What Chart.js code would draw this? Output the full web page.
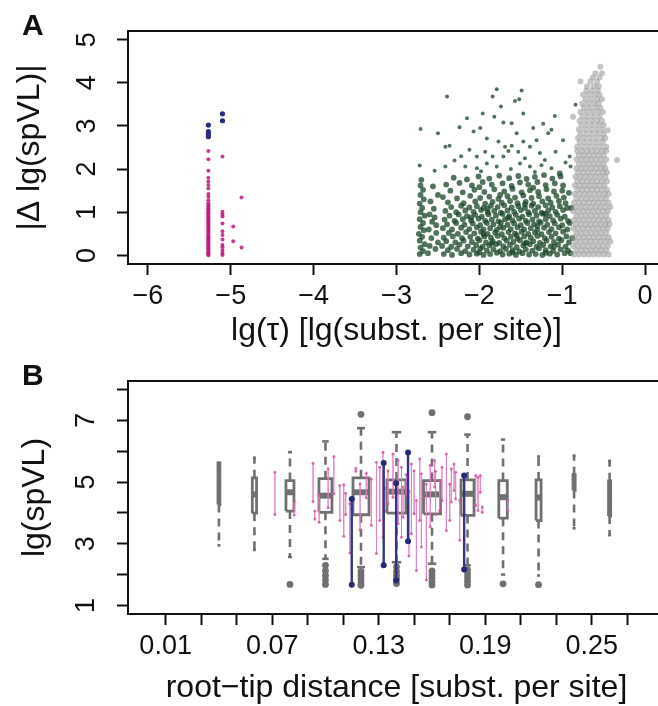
<!DOCTYPE html>
<html><head><meta charset="utf-8">
<script src="https://cdn.jsdelivr.net/npm/chart.js"></script>
<style>
html,body{margin:0;padding:0;background:#fff;}
#wrap{position:relative;width:658px;height:706px;overflow:hidden;background:#fff;}
canvas{position:absolute;left:0;}
#ca{top:0;}
#cb{top:350px;}
</style></head>
<body><div id="wrap"><canvas id="ca" width="700" height="350"></canvas><canvas id="cb" width="700" height="356"></canvas></div>
<script>
// ---------------- Panel A data ----------------
const xTicksA = [-6,-5,-4,-3,-2,-1,0];
const yTicksA = [0,1,2,3,4,5];
const magentaPts = [
[-5.27,0.0],[-5.27,0.03],[-5.27,0.05],[-5.27,0.08],[-5.27,0.1],[-5.27,0.13],[-5.27,0.16],[-5.27,0.18],[-5.27,0.21],[-5.27,0.24],[-5.27,0.27],[-5.27,0.3],[-5.27,0.33],[-5.27,0.36],[-5.27,0.39],[-5.27,0.42],[-5.27,0.45],[-5.27,0.48],[-5.27,0.52],[-5.27,0.55],[-5.27,0.58],[-5.27,0.61],[-5.27,0.64],[-5.27,0.68],[-5.27,0.71],[-5.27,0.74],[-5.27,0.77],[-5.27,0.8],[-5.27,0.84],[-5.27,0.87],[-5.27,0.9],[-5.27,0.94],[-5.27,0.97],[-5.27,1.0],[-5.27,1.04],[-5.27,1.07],[-5.27,1.1],[-5.27,1.14],[-5.27,1.17],[-5.27,1.21],[-5.27,1.28],[-5.27,1.36],[-5.27,1.42],[-5.27,1.55],[-5.27,1.63],[-5.27,1.71],[-5.27,1.8],[-5.27,1.96],[-5.27,2.23],[-5.27,2.42],
[-5.1,0.01],[-5.1,0.05],[-5.1,0.11],[-5.1,0.19],[-5.1,0.24],[-5.1,0.37],[-5.1,0.47],[-5.1,0.56],[-5.1,0.74],[-5.1,0.9],[-5.1,0.95],[-5.1,1.01],[-5.1,2.29],
[-4.97,0.67],[-4.97,0.33],[-4.87,1.34],[-4.87,0.18]
];
const bluePts = [[-5.27,3.02],[-5.27,2.87],[-5.27,2.81],[-5.27,2.75],[-5.1,3.28],[-5.1,3.12]];
const greenPts = [
[-2.72,0.03],[-2.68,0.1],[-2.71,0.18],[-2.66,0.26],[-2.72,0.34],[-2.69,0.43],[-2.73,0.5],[-2.67,0.58],[-2.71,0.66],[-2.68,0.75],[-2.72,0.84],[-2.66,0.92],[-2.71,1.0],[-2.69,1.1],[-2.72,1.2],[-2.67,1.3],[-2.71,1.4],[-2.68,1.52],[-2.71,1.62],[-2.7,1.75],[-2.72,2.08],
[-2.62,0.05],[-2.6,0.22],[-2.58,0.4],[-2.61,0.6],[-2.57,0.78],[-2.6,0.95],[-2.55,1.08],[-2.59,1.25],[-2.53,0.15],[-2.52,0.52],[-2.54,0.88],[-2.5,1.4],[-2.56,1.6],[-2.52,0.7],[-2.5,0.3],
[-2.43,0.03],[-2.33,0.01],[-2.22,0.05],[-2.12,0.02],[-2.03,0.04],[-1.95,0.01],[-1.87,0.03],[-1.79,0.06],[-1.72,0.02],[-1.64,0.04],[-1.56,0.01],[-1.48,0.05],[-1.4,0.02],[-1.32,0.03],[-1.24,0.01],[-1.15,0.04],[-1.06,0.02],[-0.97,0.05],
[-2.38,0.12],[-2.27,0.15],[-2.17,0.1],[-2.07,0.13],[-1.99,0.16],[-1.91,0.11],[-1.83,0.14],[-1.75,0.1],[-1.68,0.15],[-1.6,0.12],[-1.52,0.09],[-1.44,0.14],[-1.36,0.11],[-1.28,0.16],[-1.2,0.12],[-1.11,0.1],[-1.02,0.14],[-0.93,0.11],
[-2.45,0.22],[-2.34,0.2],[-2.24,0.25],[-2.14,0.21],[-2.04,0.24],[-1.96,0.2],[-1.88,0.23],[-1.8,0.26],[-1.71,0.21],[-1.63,0.24],[-1.55,0.19],[-1.47,0.23],[-1.39,0.26],[-1.31,0.2],[-1.23,0.24],[-1.14,0.21],[-1.05,0.25],[-0.96,0.2],
[-2.4,0.33],[-2.29,0.3],[-2.19,0.34],[-2.09,0.31],[-2.0,0.35],[-1.92,0.3],[-1.84,0.33],[-1.76,0.29],[-1.67,0.34],[-1.59,0.31],[-1.51,0.35],[-1.43,0.3],[-1.35,0.33],[-1.27,0.29],[-1.19,0.34],[-1.1,0.31],[-1.01,0.35],[-0.92,0.3],
[-2.43,0.41],[-2.32,0.44],[-2.21,0.4],[-2.11,0.43],[-2.02,0.39],[-1.94,0.44],[-1.86,0.41],[-1.78,0.45],[-1.7,0.4],[-1.62,0.43],[-1.54,0.39],[-1.46,0.44],[-1.38,0.41],[-1.3,0.45],[-1.21,0.4],[-1.13,0.43],[-1.04,0.39],[-0.95,0.44],
[-2.37,0.52],[-2.26,0.5],[-2.16,0.54],[-2.06,0.51],[-1.98,0.55],[-1.9,0.5],[-1.81,0.53],[-1.73,0.49],[-1.65,0.54],[-1.57,0.51],[-1.49,0.55],[-1.41,0.5],[-1.33,0.53],[-1.25,0.49],[-1.16,0.54],[-1.08,0.51],[-0.99,0.55],
[-2.44,0.63],[-2.33,0.6],[-2.22,0.64],[-2.12,0.61],[-2.03,0.65],[-1.95,0.6],[-1.87,0.63],[-1.79,0.59],[-1.71,0.64],[-1.62,0.61],[-1.54,0.65],[-1.46,0.6],[-1.38,0.63],[-1.3,0.59],[-1.22,0.64],[-1.13,0.61],[-1.04,0.65],[-0.94,0.6],
[-2.39,0.72],[-2.28,0.75],[-2.18,0.71],[-2.08,0.74],[-1.99,0.7],[-1.91,0.75],[-1.83,0.72],[-1.74,0.76],[-1.66,0.71],[-1.58,0.74],[-1.5,0.7],[-1.42,0.75],[-1.34,0.72],[-1.26,0.76],[-1.18,0.71],[-1.09,0.74],[-1.0,0.7],
[-2.42,0.83],[-2.3,0.8],[-2.2,0.84],[-2.1,0.81],[-2.01,0.85],[-1.93,0.8],[-1.85,0.83],[-1.77,0.79],[-1.69,0.84],[-1.6,0.81],[-1.52,0.85],[-1.44,0.8],[-1.36,0.83],[-1.28,0.79],[-1.2,0.84],[-1.11,0.81],[-1.02,0.85],[-0.93,0.8],
[-2.36,0.92],[-2.25,0.95],[-2.15,0.91],[-2.05,0.94],[-1.97,0.9],[-1.89,0.95],[-1.8,0.92],[-1.72,0.96],[-1.64,0.91],[-1.56,0.94],[-1.48,0.9],[-1.4,0.95],[-1.31,0.92],[-1.23,0.96],[-1.15,0.91],[-1.06,0.94],[-0.97,0.9],
[-2.41,1.03],[-2.28,1.0],[-2.17,1.04],[-2.07,1.01],[-1.98,1.05],[-1.9,1.0],[-1.82,1.03],[-1.74,0.99],[-1.66,1.04],[-1.58,1.01],[-1.5,1.05],[-1.41,1.0],[-1.33,1.03],[-1.25,0.99],[-1.17,1.04],[-1.08,1.01],[-0.99,1.05],
[-2.34,1.12],[-2.22,1.15],[-2.12,1.11],[-2.03,1.14],[-1.95,1.1],[-1.86,1.15],[-1.78,1.12],[-1.7,1.16],[-1.61,1.11],[-1.53,1.14],[-1.45,1.1],[-1.37,1.15],[-1.29,1.12],[-1.2,1.16],[-1.12,1.11],[-1.03,1.14],[-0.94,1.1],
[-2.38,1.23],[-2.19,1.21],[-2.05,1.25],[-1.93,1.2],[-1.84,1.24],[-1.73,1.22],[-1.63,1.26],[-1.54,1.21],[-1.44,1.24],[-1.35,1.2],[-1.24,1.25],[-1.14,1.22],[-1.04,1.26],[-0.96,1.21],
[-2.44,1.35],[-2.27,1.32],[-2.11,1.38],[-1.99,1.33],[-1.88,1.36],[-1.77,1.31],[-1.66,1.37],[-1.57,1.34],[-1.47,1.39],[-1.37,1.33],[-1.28,1.37],[-1.17,1.32],[-1.07,1.38],[-0.98,1.34],
[-2.35,1.5],[-2.2,1.46],[-2.06,1.52],[-1.94,1.47],[-1.82,1.53],[-1.7,1.48],[-1.6,1.54],[-1.49,1.46],[-1.39,1.51],[-1.29,1.47],[-1.19,1.53],[-1.1,1.48],[-1.0,1.5],
[-2.4,1.64],[-2.24,1.68],[-2.09,1.62],[-1.96,1.7],[-1.85,1.64],[-1.72,1.67],[-1.61,1.61],[-1.51,1.69],[-1.41,1.64],[-1.3,1.7],[-1.2,1.63],[-1.09,1.67],[-0.99,1.62],
[-2.31,1.8],[-2.15,1.76],[-2.01,1.83],[-1.88,1.78],[-1.76,1.85],[-1.64,1.79],[-1.53,1.84],[-1.43,1.77],[-1.33,1.82],[-1.22,1.86],[-1.12,1.78],[-1.02,1.83],
[-1.79,3.85],[-1.49,3.82],[-2.39,3.68],[-1.84,3.68],[-1.57,3.58],[-1.52,3.62],[-1.74,3.45],[-1.47,3.29],[-2.15,3.18],[-1.96,3.29],[-1.82,3.21],[-1.71,3.08],[-1.61,3.06],[-1.09,3.23],[-2.71,2.93],[-2.5,2.83],[-2.24,2.97],[-2.07,2.87],[-1.99,2.95],[-1.55,2.83],[-1.35,2.95],[-1.23,3.05],[-1.13,2.91],[-0.84,3.49],[-2.41,2.52],[-2.36,2.54],[-1.91,2.71],[-1.77,2.64],[-1.69,2.52],[-1.61,2.54],[-1.47,2.64],[-1.39,2.52],[-1.31,2.67],[-1.17,2.83],[-0.99,2.67],[-2.22,2.3],[-2.03,2.29],[-1.93,2.4],[-1.84,2.29],[-1.71,2.29],[-1.53,2.4],[-1.27,2.37],[-1.21,2.21],[-0.91,2.29],[-0.9,2.06],[-2.54,1.96],[-2.41,2.06],[-2.17,2.06],[-2.03,2.02],[-1.91,2.13],[-1.79,2.06],[-1.62,2.0],[-1.51,2.13],[-1.39,2.06],[-1.25,2.09],[-1.13,2.02],[-1.03,1.9],
[-2.3,2.2],[-1.45,2.25],[-1.08,2.4],[-1.65,2.42],[-1.98,1.95],[-2.12,2.45],[-1.33,1.93],[-0.96,2.15],[-0.9,0.05],[-0.88,0.4],[-0.91,0.75],[-0.89,1.1],[-0.92,1.45],
[-2.0,0.07],[-1.6,0.07],[-1.2,0.06],[-1.85,0.28],[-1.45,0.28],[-1.1,0.2],[-1.95,0.49],[-1.55,0.47],[-1.3,0.68],[-1.75,0.66],[-2.1,0.88],[-1.65,0.87],[-1.2,0.96],[-1.9,1.08],[-1.45,1.18],[-1.75,1.4],[-1.35,1.57],[-2.0,1.58]
];
const grayRowY = [0.02,0.12,0.22,0.32,0.42,0.52,0.62,0.72,0.82,0.92,1.02,1.12,1.22,1.32,1.42,1.52,1.62,1.72,1.82,1.92,2.02,2.12,2.22,2.32,2.42,2.52,2.62,2.72,2.82,2.92,3.02,3.12,3.22,3.32,3.42,3.52,3.62,3.72,3.82,3.92,4.03,4.12,4.22,4.37];
const grayRowX = [
[-0.86,-0.8,-0.74,-0.68,-0.62,-0.56,-0.5,-0.44],
[-0.83,-0.77,-0.71,-0.65,-0.59,-0.53,-0.47],
[-0.87,-0.81,-0.75,-0.69,-0.63,-0.57,-0.51,-0.45],
[-0.84,-0.78,-0.72,-0.66,-0.6,-0.54,-0.48,-0.42],
[-0.86,-0.8,-0.74,-0.68,-0.62,-0.56,-0.5,-0.44],
[-0.83,-0.77,-0.71,-0.65,-0.59,-0.53,-0.47],
[-0.87,-0.81,-0.75,-0.69,-0.63,-0.57,-0.51,-0.45],
[-0.84,-0.78,-0.72,-0.66,-0.6,-0.54,-0.48,-0.43],
[-0.86,-0.8,-0.74,-0.68,-0.62,-0.56,-0.5,-0.44],
[-0.83,-0.77,-0.71,-0.65,-0.59,-0.53,-0.47],
[-0.87,-0.81,-0.75,-0.69,-0.63,-0.57,-0.51,-0.45],
[-0.84,-0.78,-0.72,-0.66,-0.6,-0.54,-0.48,-0.42],
[-0.86,-0.8,-0.74,-0.68,-0.62,-0.56,-0.5,-0.44],
[-0.83,-0.77,-0.71,-0.65,-0.59,-0.53,-0.47],
[-0.85,-0.79,-0.73,-0.67,-0.61,-0.55,-0.49,-0.44],
[-0.82,-0.76,-0.7,-0.64,-0.58,-0.52,-0.46],
[-0.85,-0.79,-0.73,-0.67,-0.61,-0.55,-0.49],
[-0.82,-0.76,-0.7,-0.64,-0.58,-0.52,-0.46],
[-0.84,-0.78,-0.72,-0.66,-0.6,-0.54,-0.48],
[-0.81,-0.75,-0.69,-0.63,-0.57,-0.51,-0.46],
[-0.83,-0.77,-0.71,-0.65,-0.59,-0.53,-0.48],
[-0.8,-0.74,-0.68,-0.62,-0.56,-0.5],
[-0.83,-0.77,-0.71,-0.65,-0.59,-0.53,-0.47],
[-0.8,-0.74,-0.68,-0.62,-0.56,-0.5],
[-0.82,-0.76,-0.7,-0.64,-0.58,-0.52,-0.47],
[-0.82,-0.75,-0.68,-0.61,-0.54,-0.47],
[-0.79,-0.72,-0.65,-0.58,-0.51],
[-0.81,-0.74,-0.67,-0.6,-0.53,-0.48],
[-0.78,-0.71,-0.64,-0.57,-0.5],
[-0.8,-0.73,-0.66,-0.59,-0.52],
[-0.77,-0.7,-0.63,-0.56,-0.5],
[-0.79,-0.72,-0.65,-0.58,-0.52],
[-0.76,-0.69,-0.62,-0.55],
[-0.78,-0.71,-0.64,-0.57,-0.51],
[-0.74,-0.67,-0.6,-0.54],
[-0.76,-0.69,-0.62,-0.56],
[-0.72,-0.65,-0.58,-0.52],
[-0.75,-0.68,-0.61,-0.55],
[-0.71,-0.64,-0.57],
[-0.7,-0.62,-0.56],
[-0.78,-0.66,-0.58],
[-0.63,-0.55],
[-0.6,-0.52],
[-0.54]
];
const grayExtra = [[-0.34,2.21],[-0.87,3.21],[-0.45,2.9]];

// ---------------- Panel B data ----------------
const xTicksB = [0.01,0.03,0.05,0.07,0.09,0.11,0.13,0.15,0.17,0.19,0.21,0.23,0.25,0.27];
const xTickLabelsB = ['0.01','','','0.07','','','0.13','','','0.19','','','0.25',''];
const yTicksB = [1,2,3,4,5,6,7,8];
const yTickLabelsB = [1,3,5,7];
const boxPos = [0.04,0.06,0.08,0.10,0.12,0.14,0.16,0.18,0.20,0.22,0.24,0.26];
const boxN   = [4,20,71,187,284,400,320,187,80,28,5,5];
const boxMin = [2.95,2.80,2.57,2.51,2.24,2.40,2.35,2.30,2.00,1.97,3.50,3.28];
const boxQ1  = [4.27,3.99,4.06,4.02,3.94,3.99,3.97,3.92,3.83,3.75,4.73,3.90];
const boxMed = [4.90,4.60,4.67,4.56,4.67,4.69,4.60,4.62,4.51,4.50,4.95,4.50];
const boxQ3  = [5.62,5.14,5.05,5.11,5.14,5.07,5.05,5.07,5.05,5.07,5.24,5.04];
const boxMax = [5.62,5.79,5.97,6.32,6.75,6.62,6.62,6.54,6.38,5.83,5.86,5.69];
const outliers = [
[0.08,1.68],
[0.10,2.30],[0.10,2.13],[0.10,1.97],[0.10,1.83],[0.10,1.68],
[0.12,7.20],[0.12,2.10],[0.12,1.98],[0.12,1.86],[0.12,1.75],[0.12,1.65],
[0.14,2.25],[0.14,2.10],[0.14,1.97],[0.14,1.85],[0.14,1.71],
[0.16,7.25],[0.16,2.12],[0.16,2.00],[0.16,1.88],[0.16,1.76],[0.16,1.66],
[0.18,7.12],[0.18,2.15],[0.18,2.02],[0.18,1.90],[0.18,1.78],[0.18,1.66],
[0.20,1.70],[0.22,1.67]
];
const pinkX  = [0.0715,0.0824,0.093,0.094,0.0964,0.1015,0.1047,0.1081,0.1103,0.1114,0.1137,0.1171,0.123,0.1287,0.1306,0.1324,0.1352,0.138,0.1409,0.1428,0.1437,0.1484,0.1499,0.1512,0.1531,0.154,0.1568,0.1615,0.1643,0.1656,0.1681,0.170,0.1709,0.1724,0.1733,0.1756,0.1846,0.1859,0.1872,0.1883,0.2027,0.1258,0.1455,0.1590,0.1335,0.1195,0.1470,0.1620];
const pinkY1 = [5.32,4.35,5.61,4.06,4.60,5.43,5.83,4.89,4.91,4.64,4.30,5.45,5.29,5.64,5.48,5.97,5.37,5.91,5.70,5.48,4.84,5.59,5.37,4.40,5.76,5.27,4.94,5.70,5.05,5.48,5.91,4.94,5.43,5.59,5.32,4.40,5.21,5.16,5.21,4.19,4.42,5.10,5.25,5.55,4.80,4.95,4.70,5.35];
const pinkY2 = [3.95,3.93,4.37,3.80,3.70,4.17,4.62,3.75,3.24,3.95,2.70,5.35,4.49,2.68,3.75,3.21,4.30,4.51,3.65,3.21,3.86,3.32,3.97,2.13,3.75,2.89,1.82,4.84,4.08,4.40,3.43,3.75,4.35,4.73,4.46,3.11,4.24,4.08,4.67,4.02,4.06,3.60,4.55,3.55,4.05,3.45,2.60,3.95];
const blueX  = [0.1148,0.1328,0.1398,0.1465,0.1781];
const blueY1 = [4.45,5.62,4.96,5.96,5.21];
const blueY2 = [1.67,2.30,1.81,3.08,2.16];

// ---------------- styles ----------------
const FONT = '"Liberation Sans", Arial, Helvetica, sans-serif';
Chart.defaults.font.family = FONT;
Chart.defaults.color = '#111';
const BOX_HALF_MAX = 0.00535;   // half width of widest box, in x units
const maxN = Math.max(...boxN);
const halfW = i => BOX_HALF_MAX * Math.sqrt(boxN[i] / maxN);
const BOXGRAY = '#707070';

const minusFmt = v => (v < 0 ? '\u2212' + Math.abs(v) : String(v));

const framePlugin = {
  id: 'frame',
  afterDraw(chart, args, opts) {
    const {ctx, chartArea: a} = chart;
    ctx.save();
    ctx.strokeStyle = '#111'; ctx.lineWidth = 2;
    ctx.strokeRect(a.left, a.top, a.right - a.left, a.bottom - a.top);
    const ys = chart.scales.y;
    ctx.fillStyle = '#111';
    ctx.font = '27px ' + FONT;
    ctx.textAlign = 'center'; ctx.textBaseline = 'middle';
    opts.yLabels.forEach(v => {
      const py = ys.getPixelForValue(v);
      ctx.save(); ctx.translate(opts.yLabelX, py); ctx.rotate(-Math.PI / 2);
      ctx.fillText(minusFmt(v), 0, 0); ctx.restore();
    });
    ctx.font = 'bold 30px ' + FONT;
    ctx.textAlign = 'left'; ctx.textBaseline = 'alphabetic';
    ctx.fillText(opts.letter, 22, opts.letterY);
    ctx.restore();
  }
};

function axisCommon(ticksArr, fit) {
  return {
    type: 'linear',
    afterBuildTicks: s => { s.ticks = ticksArr.map(v => ({value: v})); },
    grid: {display: true, drawOnChartArea: false, drawTicks: true, tickLength: 11, tickWidth: 2, tickColor: '#111', color: '#111'},
    border: {display: false},
    afterFit: fit
  };
}

// ---------------- Chart A ----------------
const grayPts = [];
grayRowY.forEach((y, r) => grayRowX[r].forEach(x => grayPts.push({x, y})));
grayExtra.forEach(p => grayPts.push({x: p[0], y: p[1]}));
const toXY = arr => arr.map(p => ({x: p[0], y: p[1]}));

new Chart(document.getElementById('ca'), {
  type: 'scatter',
  data: {datasets: [
    {data: toXY(greenPts), backgroundColor: 'rgba(26,70,38,0.75)', borderWidth: 0, pointRadius: ctx => (ctx.raw && ctx.raw.y > 1.9 ? 2.0 : 2.9), order: 4},
    {data: grayPts, backgroundColor: 'rgba(150,150,150,0.55)', borderWidth: 0, pointRadius: 3.0, order: 3},
    {data: toXY(magentaPts), backgroundColor: 'rgba(192,24,128,0.85)', borderWidth: 0, pointRadius: 2.0, order: 2},
    {data: toXY(bluePts), backgroundColor: '#2a2c7c', borderWidth: 0, pointRadius: 2.6, order: 1}
  ]},
  options: {
    responsive: false, animation: false, events: [],
    layout: {padding: {top: 31, right: 35, left: 0, bottom: 0}},
    plugins: {legend: {display: false}, tooltip: {enabled: false},
      frame: {yLabels: yTicksA, yLabelX: 88, letter: 'A', letterY: 35}},
    scales: {
      x: Object.assign(axisCommon(xTicksA, s => { s.height = 86; }), {
        min: -6.24, max: 0.24,
        ticks: {font: {size: 27}, color: '#111', padding: 5, autoSkip: false, maxRotation: 0, minRotation: 0, callback: v => minusFmt(v)},
        title: {display: true, text: 'lg(\u03c4) [lg(subst. per site)]', font: {size: 32}, color: '#111', padding: {top: 0, bottom: 0}}
      }),
      y: Object.assign(axisCommon(yTicksA, s => { s.width = 128; }), {
        min: -0.2, max: 5.2,
        ticks: {display: false},
        title: {display: true, text: '|\u0394 lg(spVL)|', font: {size: 32}, color: '#111', padding: {top: 11, bottom: 0}}
      })
    }
  },
  plugins: [framePlugin]
});

// ---------------- Chart B ----------------
const segData = (xs, y1, y2) => {
  const d = [];
  xs.forEach((x, i) => { d.push({x, y: y1[i]}, {x, y: y2[i]}, {x, y: null}); });
  return d;
};
const boxLines = [], whiskers = [], staples = [], medians = [];
boxPos.forEach((x, i) => {
  const h = halfW(i);
  boxLines.push({x: x - h, y: boxQ1[i]}, {x: x + h, y: boxQ1[i]}, {x: x + h, y: boxQ3[i]}, {x: x - h, y: boxQ3[i]}, {x: x - h, y: boxQ1[i]}, {x, y: null});
  whiskers.push({x, y: boxQ3[i]}, {x, y: boxMax[i]}, {x, y: null}, {x, y: boxQ1[i]}, {x, y: boxMin[i]}, {x, y: null});
  staples.push({x, y: boxMax[i], i}, {x, y: boxMin[i], i});
  medians.push({x, y: boxMed[i], i});
});
const pxHalf = (ctx, f) => {
  const raw = ctx.raw; if (!raw || raw.i === undefined) return 0;
  const xs = ctx.chart.scales.x;
  return (xs.getPixelForValue(boxPos[raw.i] + halfW(raw.i)) - xs.getPixelForValue(boxPos[raw.i])) * f;
};

new Chart(document.getElementById('cb'), {
  type: 'scatter',
  data: {datasets: [
    {type: 'line', data: whiskers, showLine: true, spanGaps: false, borderColor: BOXGRAY, borderWidth: 2.6, borderDash: [8, 6], pointRadius: 0, order: 7},
    {type: 'line', data: boxLines, showLine: true, spanGaps: false, borderColor: BOXGRAY, borderWidth: 2.8, borderJoinStyle: 'miter', pointRadius: 0, fill: false, order: 6},
    {data: medians, pointStyle: 'line', pointRadius: ctx => pxHalf(ctx, 1), borderColor: BOXGRAY, pointBorderColor: BOXGRAY, pointBorderWidth: 6, order: 5},
    {data: staples, pointStyle: 'line', pointRadius: ctx => Math.max(pxHalf(ctx, 0.5), 1.5), borderColor: BOXGRAY, pointBorderColor: BOXGRAY, pointBorderWidth: 2.6, order: 4},
    {data: toXY(outliers), pointStyle: 'circle', pointRadius: 3.4, backgroundColor: BOXGRAY, borderWidth: 0, order: 3},
    {type: 'line', data: segData(pinkX, pinkY1, pinkY2), showLine: true, spanGaps: false, borderColor: 'rgba(226,125,192,0.65)', borderWidth: 1, pointRadius: 1.5, pointBackgroundColor: 'rgba(212,80,165,0.8)', pointBorderWidth: 0, order: 2},
    {type: 'line', data: segData(blueX, blueY1, blueY2), showLine: true, spanGaps: false, borderColor: '#34358a', borderWidth: 2.4, pointRadius: 3.0, pointBackgroundColor: '#26287a', pointBorderWidth: 0, order: 1}
  ]},
  options: {
    responsive: false, animation: false, events: [],
    layout: {padding: {top: 31, right: 35, left: 0, bottom: 0}},
    plugins: {legend: {display: false}, tooltip: {enabled: false},
      frame: {yLabels: yTickLabelsB, yLabelX: 87, letter: 'B', letterY: 35}},
    scales: {
      x: Object.assign(axisCommon(xTicksB, s => { s.height = 92; }), {
        min: -0.0112, max: 0.2912,
        ticks: {font: {size: 27}, color: '#111', padding: 5, autoSkip: false, maxRotation: 0, minRotation: 0, callback: (v, i) => xTickLabelsB[i]},
        title: {display: true, text: 'root\u2212tip distance [subst. per site]', font: {size: 32, lineHeight: 1.1}, color: '#111', padding: {top: 0, bottom: 0}}
      }),
      y: Object.assign(axisCommon(yTicksB, s => { s.width = 128; }), {
        min: 0.72, max: 8.28,
        ticks: {display: false},
        title: {display: true, text: 'lg(spVL)', font: {size: 32}, color: '#111', padding: {top: 16, bottom: 0}}
      })
    }
  },
  plugins: [framePlugin]
});
</script>
</body></html>
